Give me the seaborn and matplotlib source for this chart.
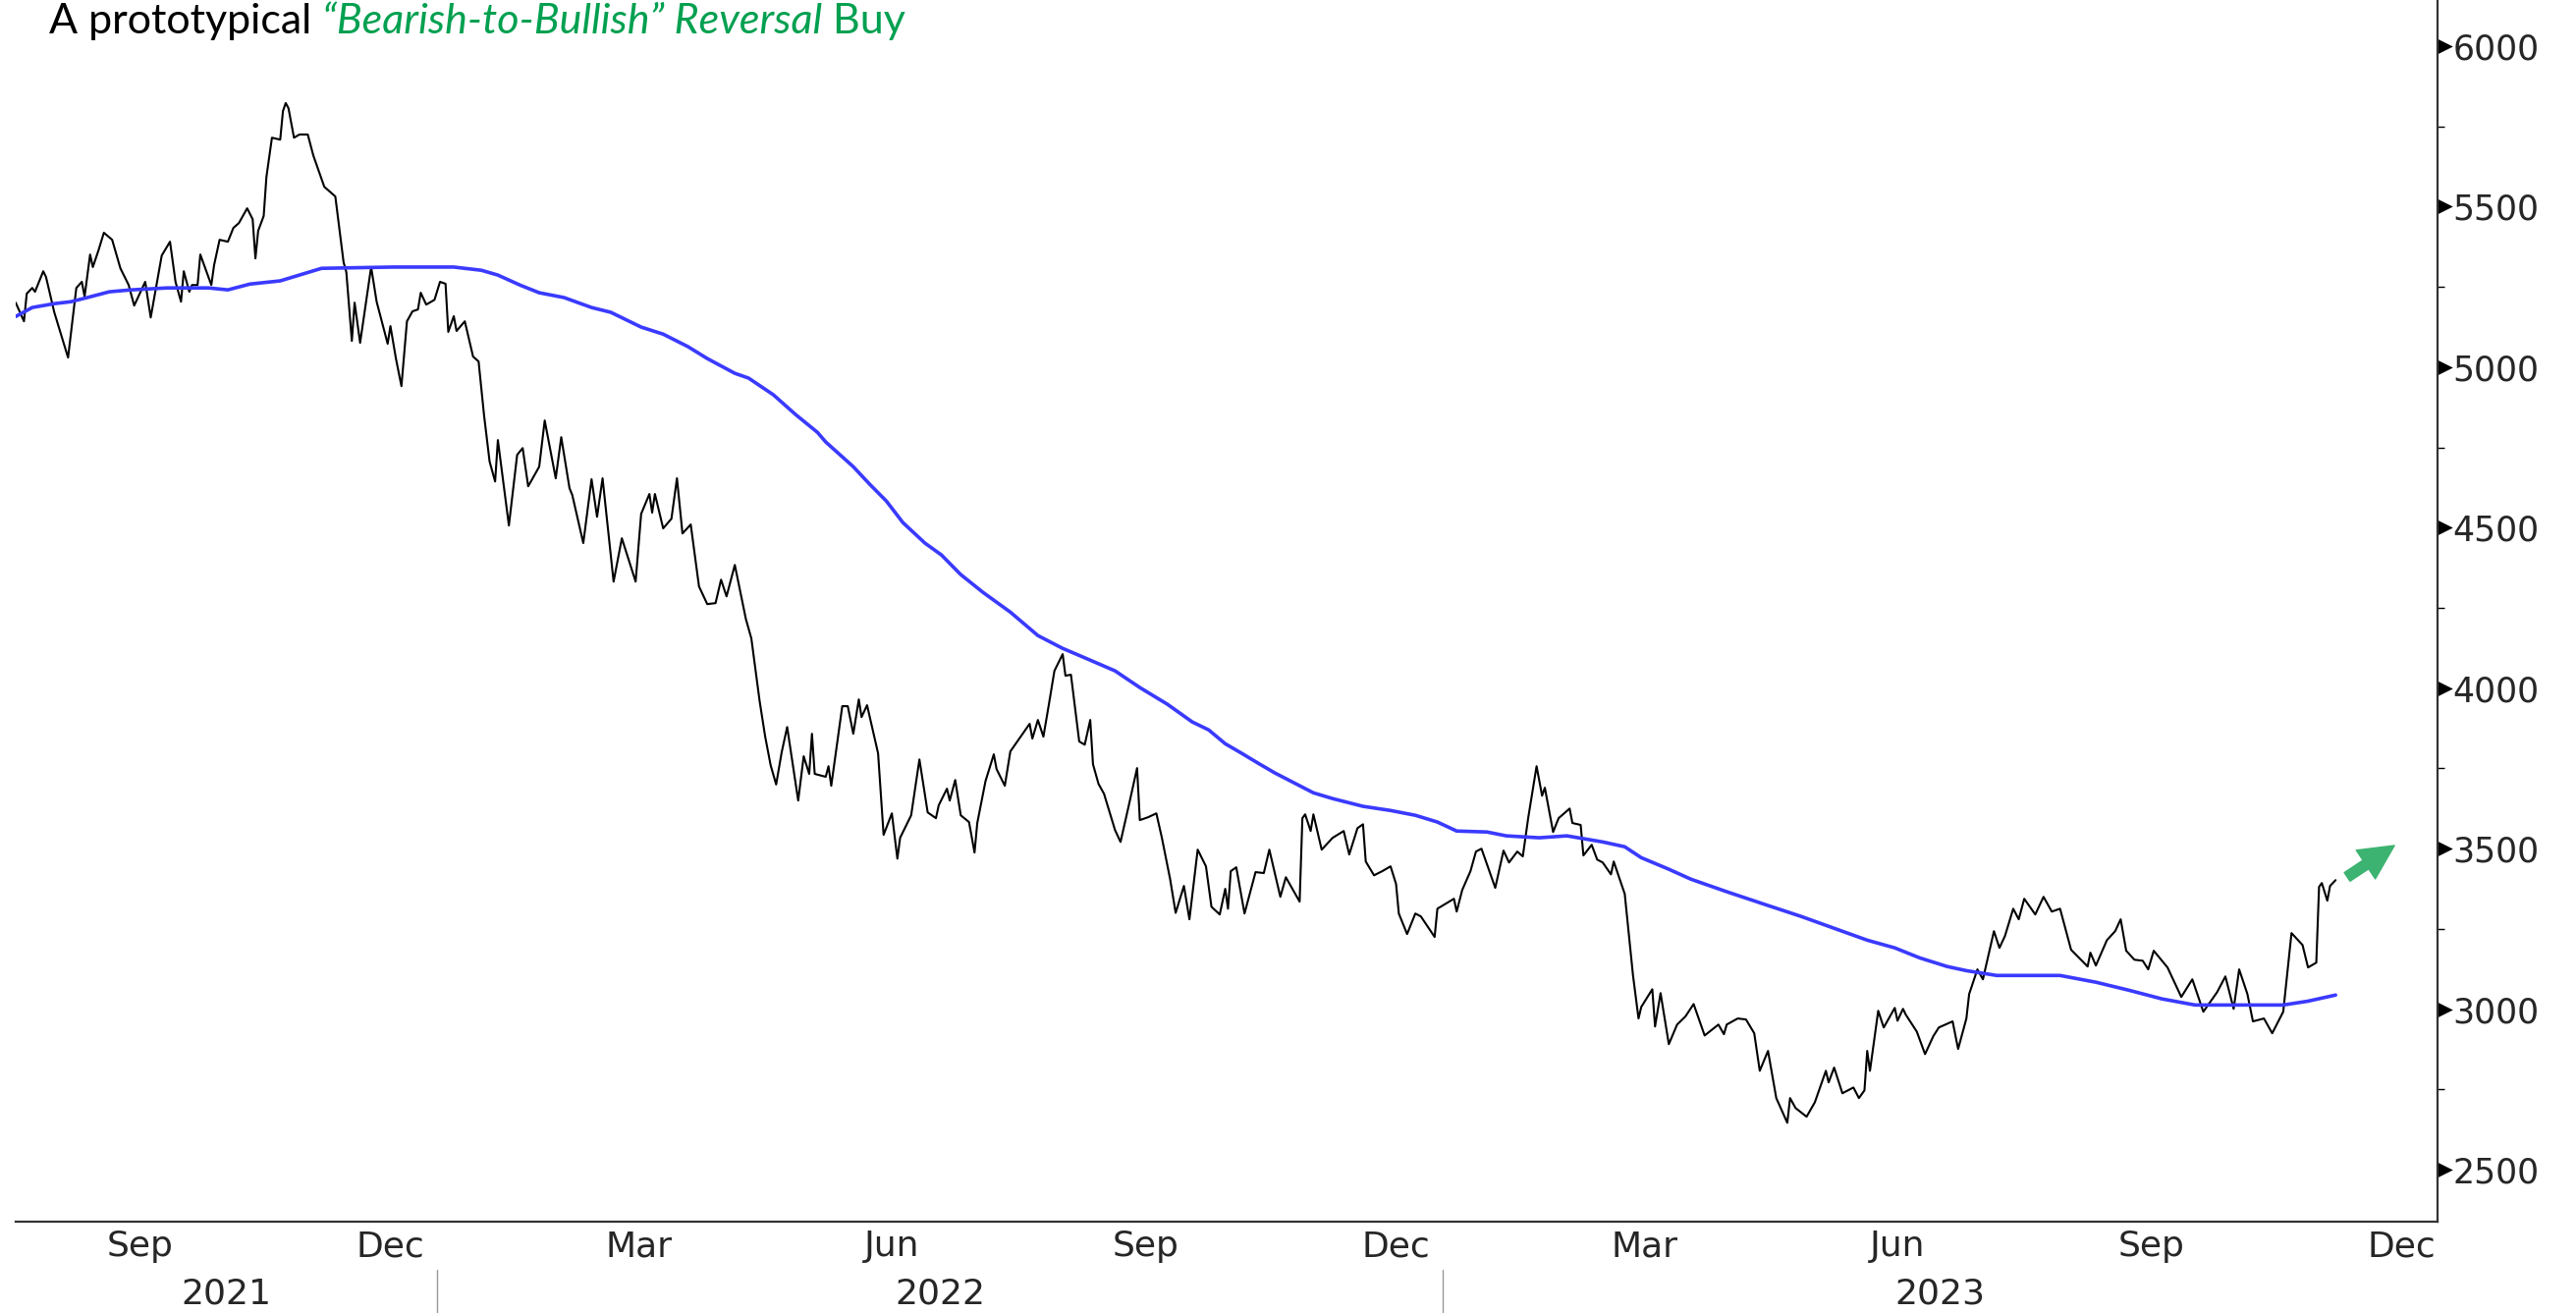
import matplotlib
matplotlib.use("Agg")
import matplotlib.pyplot as plt
import matplotlib.dates as mdates
import matplotlib.ticker as mticker
import matplotlib.path as mpath
import matplotlib.transforms as mtransforms
import numpy as np
import pandas as pd
import seaborn as sns

sns.set_style("white")
plt.rcParams["font.family"] = ["DejaVu Sans"]

# series start date, values are days after it
start = pd.Timestamp("2021-08-01")

price_day = [0, 3, 4, 6, 7, 10, 11, 14, 19, 22,
             24, 25, 27, 28, 30, 32, 35, 38, 41, 43,
             46, 47, 49, 53, 56, 58, 60, 61, 63, 64,
             66, 67, 71, 72, 74, 77, 79, 81, 84, 86,
             87, 88, 90, 91, 93, 96, 97, 98, 99, 101,
             103, 106, 108, 112, 116, 119, 120, 122, 123, 125,
             129, 131, 135, 136, 138, 140, 142, 144, 146, 147,
             149, 152, 154, 156, 157, 159, 160, 163, 166, 168,
             170, 172, 174, 175, 179, 182, 184, 186, 190, 192,
             196, 198, 201, 202, 206, 209, 211, 213, 217, 220,
             225, 227, 230, 231, 232, 235, 238, 240, 242, 245,
             248, 251, 254, 256, 258, 261, 265, 267, 270, 272,
             274, 276, 278, 280, 284, 286, 288, 289, 290, 294,
             295, 296, 300, 302, 304, 306, 307, 309, 313, 315,
             318, 320, 321, 325, 328, 331, 334, 335, 338, 339,
             341, 343, 346, 348, 349, 352, 355, 356, 359, 361,
             364, 368, 369, 371, 373, 375, 377, 380, 381, 383,
             386, 388, 390, 391, 393, 395, 399, 401, 404, 407,
             408, 411, 414, 416, 419, 421, 424, 426, 429, 432,
             434, 437, 439, 440, 441, 443, 446, 450, 453, 455,
             459, 461, 466, 467, 468, 470, 471, 474, 478, 482,
             484, 487, 489, 490, 493, 496, 499, 501, 502, 505,
             508, 510, 515, 516, 522, 523, 525, 528, 530, 532,
             537, 540, 542, 545, 547, 549, 552, 554, 555, 558,
             560, 564, 565, 568, 569, 572, 574, 576, 579, 580,
             584, 587, 589, 590, 594, 595, 597, 600, 603, 606,
             609, 613, 618, 620, 621, 625, 628, 631, 633, 636,
             639, 643, 644, 646, 650, 653, 657, 658, 660, 663,
             667, 669, 671, 672, 673, 676, 678, 682, 683, 685,
             686, 690, 693, 696, 698, 703, 705, 708, 709, 712,
             714, 718, 720, 722, 725, 727, 729, 733, 736, 739,
             742, 746, 752, 753, 755, 759, 762, 764, 766, 769,
             772, 774, 776, 781, 784, 786, 790, 794, 799, 802,
             805, 807, 810, 812, 816, 819, 823, 826, 830, 832,
             835, 836, 837, 839, 840, 842]

price_close = [5201, 5143, 5229, 5247, 5235, 5299, 5281, 5171, 5030, 5247,
               5266, 5220, 5351, 5312, 5363, 5419, 5397, 5308, 5256, 5192,
               5247, 5266, 5155, 5348, 5391, 5266, 5204, 5299, 5235, 5256,
               5256, 5351, 5256, 5318, 5397, 5391, 5434, 5449, 5495, 5461,
               5339, 5425, 5471, 5593, 5715, 5709, 5798, 5823, 5807, 5715,
               5725, 5725, 5660, 5562, 5532, 5327, 5296, 5082, 5201, 5076,
               5312, 5204, 5073, 5128, 5027, 4941, 5143, 5174, 5180, 5232,
               5195, 5210, 5266, 5260, 5110, 5159, 5113, 5143, 5033, 5018,
               4849, 4706, 4644, 4773, 4507, 4727, 4748, 4629, 4690, 4834,
               4654, 4782, 4623, 4602, 4452, 4651, 4534, 4654, 4332, 4467,
               4332, 4543, 4605, 4547, 4605, 4498, 4528, 4654, 4482, 4510,
               4317, 4262, 4265, 4338, 4286, 4384, 4216, 4155, 3960, 3850,
               3760, 3700, 3800, 3879, 3650, 3788, 3733, 3858, 3733, 3724,
               3757, 3696, 3944, 3944, 3858, 3965, 3910, 3947, 3797, 3543,
               3610, 3469, 3534, 3604, 3778, 3613, 3595, 3635, 3687, 3650,
               3714, 3604, 3583, 3488, 3580, 3711, 3794, 3748, 3696, 3803,
               3840, 3889, 3843, 3901, 3849, 3950, 4054, 4106, 4039, 4042,
               3834, 3824, 3901, 3763, 3702, 3671, 3558, 3521, 3635, 3751,
               3589, 3598, 3610, 3534, 3405, 3300, 3384, 3280, 3497, 3445,
               3319, 3295, 3375, 3313, 3430, 3442, 3298, 3427, 3424, 3497,
               3350, 3411, 3335, 3595, 3607, 3555, 3607, 3497, 3534, 3555,
               3482, 3564, 3576, 3460, 3417, 3430, 3445, 3390, 3298, 3234,
               3298, 3289, 3225, 3313, 3344, 3304, 3371, 3430, 3491, 3500,
               3378, 3494, 3457, 3491, 3476, 3598, 3757, 3665, 3690, 3552,
               3595, 3625, 3580, 3574, 3479, 3512, 3466, 3457, 3420, 3460,
               3359, 3105, 2971, 3007, 3062, 2946, 3050, 2891, 2952, 2977,
               3016, 2918, 2952, 2922, 2952, 2971, 2968, 2925, 2808, 2870,
               2723, 2646, 2723, 2692, 2665, 2710, 2808, 2772, 2818, 2738,
               2756, 2723, 2747, 2870, 2808, 2995, 2943, 3004, 2964, 3001,
               2983, 2930, 2860, 2916, 2943, 2962, 2876, 2971, 3047, 3124,
               3093, 3243, 3191, 3228, 3313, 3280, 3344, 3295, 3350, 3304,
               3313, 3185, 3133, 3176, 3136, 3215, 3243, 3280, 3182, 3154,
               3151, 3124, 3182, 3130, 3075, 3038, 3093, 2992, 3053, 3102,
               3001, 3124, 3047, 2962, 2971, 2925, 2992, 3237, 3200, 3130,
               3145, 3381, 3393, 3338, 3384, 3402]

# moving average (blue line)
ma_day = [0, 6, 14, 20, 26, 34, 42, 55, 70, 77,
          85, 96, 111, 137, 159, 169, 175, 183, 190, 199,
          209, 216, 227, 235, 244, 251, 261, 266, 275, 283,
          291, 294, 304, 310, 316, 322, 330, 336, 343, 351,
          361, 371, 380, 389, 399, 408, 418, 427, 433, 439,
          445, 451, 457, 464, 471, 478, 489, 499, 508, 516,
          523, 534, 541, 553, 563, 576, 584, 590, 600, 608,
          621, 636, 648, 660, 672, 682, 691, 701, 708, 719,
          742, 755, 767, 779, 791, 815, 823, 832, 842]

ma_value = [5158, 5186, 5198, 5204, 5217, 5235, 5241, 5247, 5247, 5241,
            5259, 5269, 5308, 5312, 5312, 5302, 5287, 5256, 5232, 5217,
            5186, 5171, 5125, 5103, 5064, 5027, 4981, 4966, 4914, 4853,
            4797, 4767, 4690, 4635, 4583, 4516, 4452, 4415, 4354, 4299,
            4237, 4164, 4124, 4091, 4054, 4002, 3950, 3895, 3870, 3827,
            3797, 3766, 3736, 3705, 3674, 3656, 3632, 3619, 3604, 3583,
            3555, 3552, 3540, 3534, 3540, 3521, 3506, 3472, 3436, 3405,
            3366, 3323, 3289, 3252, 3215, 3191, 3160, 3133, 3120, 3105,
            3105, 3084, 3059, 3032, 3013, 3013, 3013, 3025, 3044]

y_ticks = [2500, 3000, 3500, 4000, 4500, 5000, 5500, 6000]
years = [2021, 2022, 2023]
x_start, x_end = pd.Timestamp("2021-08-01"), pd.Timestamp("2023-12-28")

green = "#00a050"

price_df = pd.DataFrame({"date": start + pd.to_timedelta(price_day, unit="D"),
                         "close": price_close})
ma_df = pd.DataFrame({"date": start + pd.to_timedelta(ma_day, unit="D"),
                      "ma": ma_value})

W, H = 2623, 1337
fig = plt.figure(figsize=(W / 100, H / 100), dpi=100)
ax = fig.add_axes([16 / W, 1 - 1244 / H, (2482 - 16) / W, 1244 / H])

sns.lineplot(data=price_df, x="date", y="close", color="black",
             linewidth=1.5, estimator=None, ax=ax)
sns.lineplot(data=ma_df, x="date", y="ma", color="#3a3aff",
             linewidth=2.6, estimator=None, ax=ax)
ax.set_xlabel("")
ax.set_ylabel("")

# spines
for side in ["left", "top"]:
    ax.spines[side].set_visible(False)
for side in ["right", "bottom"]:
    ax.spines[side].set_color("#333333")
    ax.spines[side].set_linewidth(1.6)

# y axis on the right with triangle ticks
ax.set_ylim(2338, 6144)
ax.yaxis.tick_right()
ax.set_yticks(y_ticks)
ax.yaxis.set_minor_locator(mticker.MultipleLocator(250))
ax.tick_params(axis="y", which="major", direction="out", length=8, width=0,
               pad=3, labelsize=25, right=True, left=False)
ax.tick_params(axis="y", which="minor", direction="out", length=5, width=1,
               right=True, left=False, color="black")

# x axis: month boundaries + quarter labels
ax.set_xlim(x_start, x_end)
month_starts = pd.date_range("2021-09-01", "2023-12-01", freq="MS")
ax.xaxis.set_major_locator(mdates.MonthLocator(bymonth=[3, 6, 9, 12], bymonthday=15))
ax.xaxis.set_major_formatter(mdates.DateFormatter("%b"))
ax.xaxis.set_minor_locator(mticker.FixedLocator(mdates.date2num(month_starts)))
ax.tick_params(axis="x", which="major", length=0, pad=6, labelsize=26)
ax.tick_params(axis="x", which="minor", length=6, width=1, direction="out",
               color="black")

trans = mtransforms.blended_transform_factory(ax.transData, ax.transAxes)
for yr in years:
    lo = max(x_start, pd.Timestamp(f"{yr}-01-01"))
    hi = min(x_end, pd.Timestamp(f"{yr + 1}-01-01"))
    mid = mdates.date2num(lo) + (mdates.date2num(hi) - mdates.date2num(lo)) / 2
    ax.text(mid, -0.0587, str(yr), transform=trans, ha="center", va="center",
            fontsize=26)
for yr in years[1:]:
    jan = mdates.date2num(pd.Timestamp(f"{yr}-01-01"))
    ax.plot([jan, jan], [-0.039, -0.08], transform=trans, color="#999999",
            lw=1, clip_on=False)

# title in three pieces
t1 = fig.text(50 / W, 1 - 22 / H, "A prototypical ", fontsize=31,
              family="Lato", va="center", color="black")
t2 = ax.annotate("\u201cBearish-to-Bullish\u201d Reversal", xy=(1, 0),
                 xycoords=t1, va="bottom", fontsize=31, family="Lato",
                 style="italic", color=green, annotation_clip=False)
ax.annotate(" Buy", xy=(1, 0), xycoords=t2, va="bottom", fontsize=31,
            family="Lato", color=green, annotation_clip=False)

# green arrow
ax.annotate("", xy=(0.9822, 0.3079), xytext=(0.9627, 0.2822),
            xycoords="axes fraction",
            arrowprops=dict(arrowstyle="simple,head_length=0.6,head_width=0.6,tail_width=0.18",
                            color="#3cb371", mutation_scale=42,
                            shrinkA=0, shrinkB=0))

# triangle markers for the major y ticks
tri = mpath.Path([[0, -0.5], [1, 0], [0, 0.5], [0, -0.5]])
for tick in ax.yaxis.get_major_ticks():
    tick.tick2line.set_marker(tri)
    tick.tick2line.set_markersize(22)
    tick.tick2line.set_markerfacecolor("black")
    tick.tick2line.set_markeredgewidth(0)

fig.savefig("out.png", dpi=100)
